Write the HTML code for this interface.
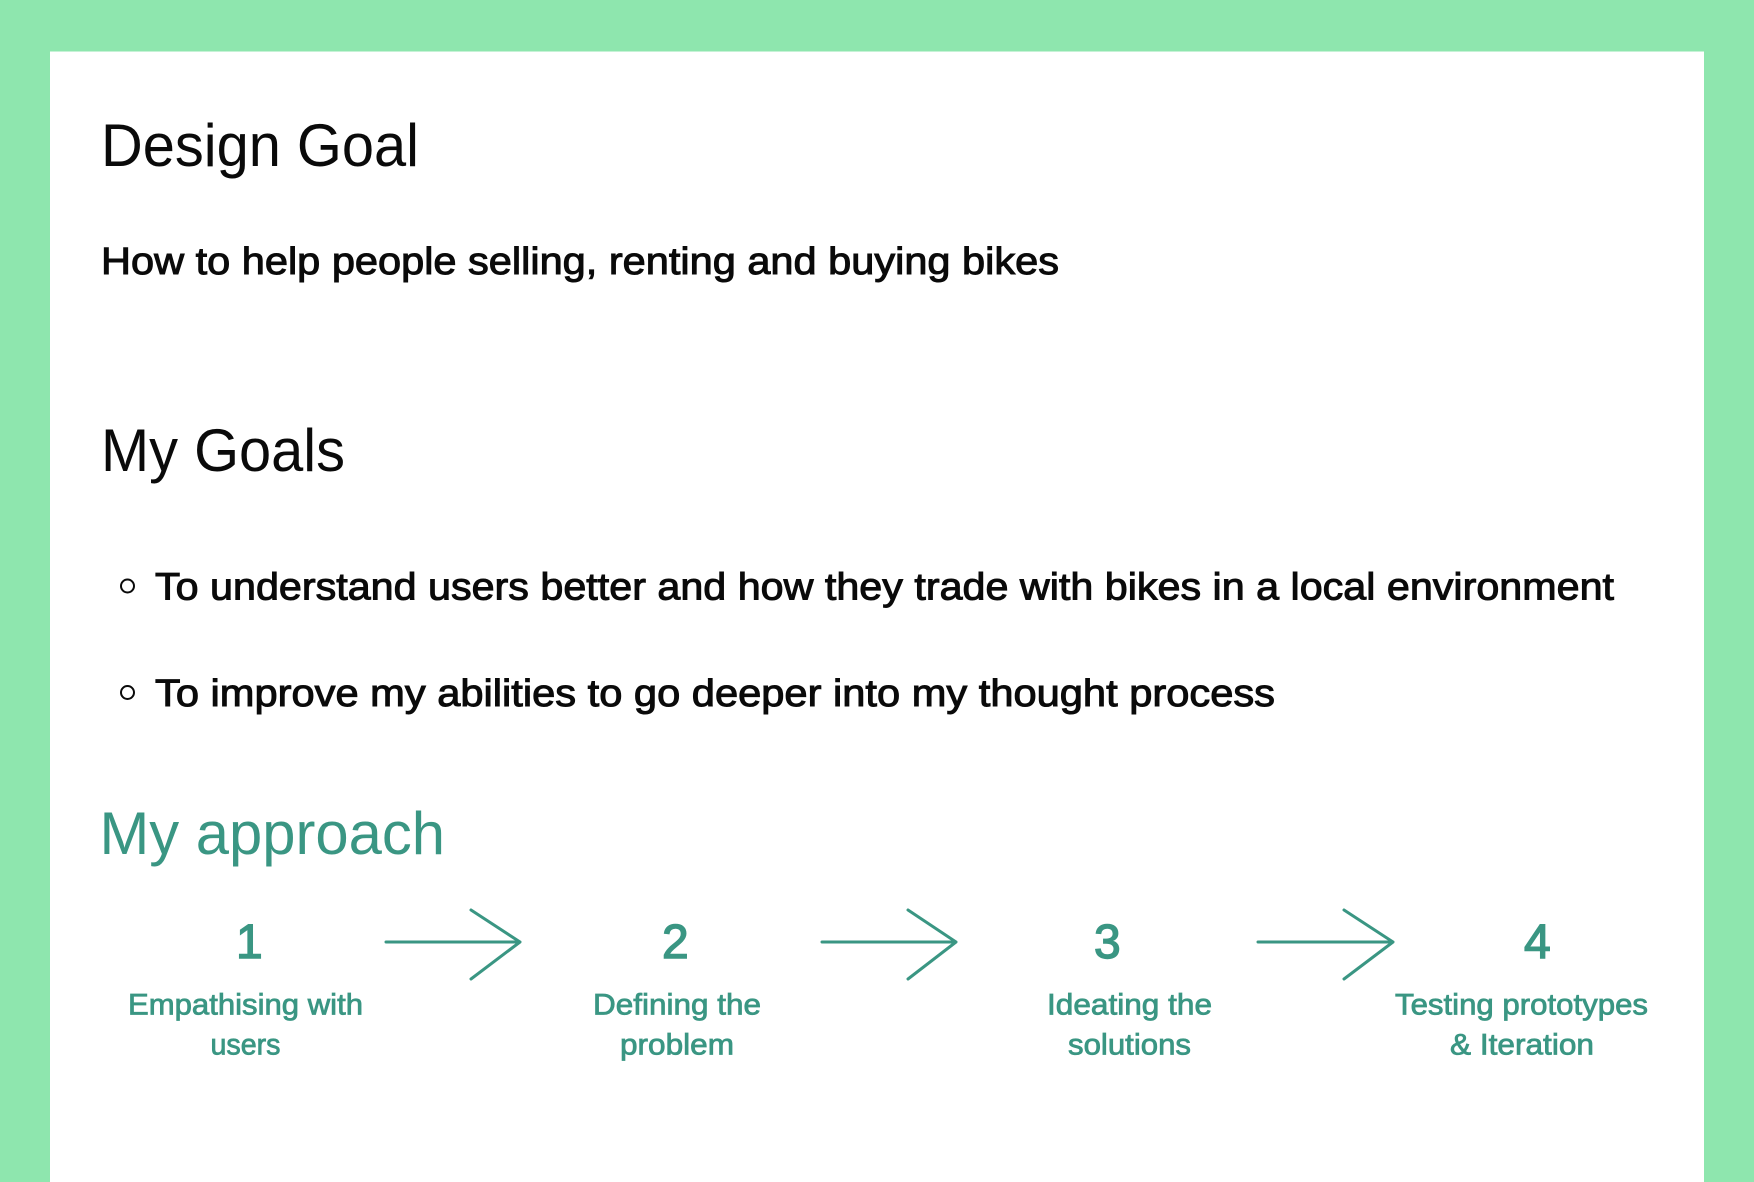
<!DOCTYPE html>
<html lang="en">
<head>
<meta charset="utf-8">
<title>Design Goal</title>
<style>
html,body{margin:0;padding:0;width:1754px;height:1182px;overflow:hidden;background:#8ee6ae}
svg{display:block;position:absolute;left:0;top:0}
text{font-family:"Liberation Sans",sans-serif}
.h{font-size:60px;fill:#0a0a0a}
.b{font-size:38px;fill:#0a0a0a;stroke:#0a0a0a;stroke-width:1px}
.t{fill:#3a9683}
.n{font-size:48px;fill:#3a9683;stroke:#3a9683;stroke-width:1.4px;text-anchor:start}
.l{font-size:30px;fill:#3a9683;stroke:#3a9683;stroke-width:.8px}
.a{fill:none;stroke:#3a9683;stroke-width:3;stroke-linecap:round;stroke-linejoin:round}
</style>
</head>
<body>
<svg width="1754" height="1182" viewBox="0 0 1754 1182">
<rect x="0" y="0" width="1754" height="1182" fill="#8ee6ae"/>
<rect x="50" y="51.5" width="1654" height="1130.5" fill="#ffffff"/>

<text class="h" x="101" y="166" textLength="318" lengthAdjust="spacingAndGlyphs">Design Goal</text>
<text class="b" x="101" y="274" textLength="958" lengthAdjust="spacingAndGlyphs">How to help people selling, renting and buying bikes</text>

<text class="h" x="101" y="471" textLength="244" lengthAdjust="spacingAndGlyphs">My Goals</text>
<circle cx="127.5" cy="586" r="6.5" fill="none" stroke="#0a0a0a" stroke-width="2"/>
<text class="b" x="155" y="599.5" textLength="1459" lengthAdjust="spacingAndGlyphs">To understand users better and how they trade with bikes in a local environment</text>
<circle cx="127.5" cy="692.5" r="6.5" fill="none" stroke="#0a0a0a" stroke-width="2"/>
<text class="b" x="155" y="706" textLength="1120" lengthAdjust="spacingAndGlyphs">To improve my abilities to go deeper into my thought process</text>

<text class="h t" x="99.5" y="854" textLength="345.5" lengthAdjust="spacingAndGlyphs">My approach</text>

<text class="n" x="236" y="958">1</text>
<text class="l" x="128" y="1014.5" textLength="235" lengthAdjust="spacingAndGlyphs">Empathising with</text>
<text class="l" x="210.5" y="1054.5" textLength="70" lengthAdjust="spacingAndGlyphs">users</text>

<g class="a">
<path class="a" d="M386 942H520M471 910L520 942L471 979"/>
</g>

<text class="n" x="662" y="958">2</text>
<text class="l" x="593" y="1014.5" textLength="168" lengthAdjust="spacingAndGlyphs">Defining the</text>
<text class="l" x="620" y="1054.5" textLength="114" lengthAdjust="spacingAndGlyphs">problem</text>

<g class="a">
<path class="a" d="M822 942H956M908 910L956 942L908 979"/>
</g>

<text class="n" x="1094" y="958">3</text>
<text class="l" x="1047" y="1014.5" textLength="165" lengthAdjust="spacingAndGlyphs">Ideating the</text>
<text class="l" x="1068" y="1054.5" textLength="123" lengthAdjust="spacingAndGlyphs">solutions</text>

<g class="a">
<path class="a" d="M1258 942H1393M1344 910L1393 942L1344 979"/>
</g>

<text class="n" x="1524" y="958">4</text>
<text class="l" x="1395" y="1014.5" textLength="253" lengthAdjust="spacingAndGlyphs">Testing prototypes</text>
<text class="l" x="1450" y="1054.5" textLength="144" lengthAdjust="spacingAndGlyphs">&amp; Iteration</text>
</svg>
</body>
</html>
